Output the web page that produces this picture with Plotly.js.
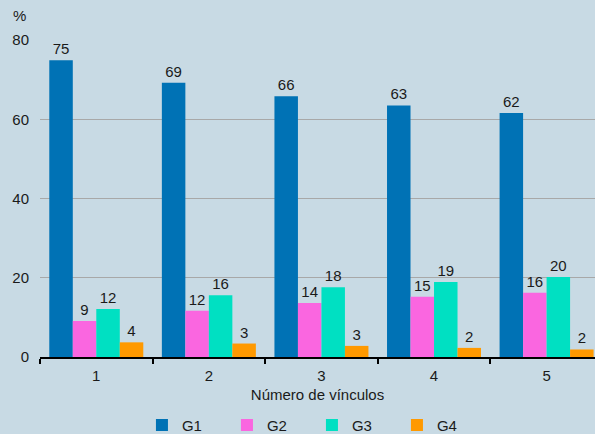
<!DOCTYPE html>
<html>
<head>
<meta charset="utf-8">
<script src="https://cdn.plot.ly/plotly-3.0.1.min.js"></script>
<style>html,body{margin:0;padding:0;background:#c8dae4;}#chart{width:595px;height:434px;}</style>
</head>
<body>
<div id="chart"></div>
<script>
var categories = ['1', '2', '3', '4', '5'];
var seriesNames = ['G1', 'G2', 'G3', 'G4'];
var g1 = [74.9, 69.2, 65.8, 63.5, 61.6];
var g2 = [9.1, 11.7, 13.6, 15.2, 16.2];
var g3 = [12.1, 15.6, 17.6, 18.9, 20.2];
var g4 = [3.7, 3.4, 2.8, 2.3, 1.9];
var g1Labels = ['75', '69', '66', '63', '62'];
var g2Labels = ['9', '12', '14', '15', '16'];
var g3Labels = ['12', '16', '18', '19', '20'];
var g4Labels = ['4', '3', '3', '2', '2'];
var yTicks = [0, 20, 40, 60, 80];

var colors = ['#0072b5', '#fa66e0', '#00e0c2', '#ff9900'];
var values = [g1, g2, g3, g4];
var labels = [g1Labels, g2Labels, g3Labels, g4Labels];
var font = {family: 'Liberation Sans, Arial, sans-serif', size: 15, color: '#1a1a1a'};

var traces = values.map(function (v, i) {
  return {
    type: 'bar',
    name: seriesNames[i],
    x: categories,
    y: v,
    text: labels[i],
    textposition: 'outside',
    textfont: font,
    cliponaxis: false,
    marker: {color: colors[i]},
    hoverinfo: 'none'
  };
});

var layout = {
  width: 595,
  height: 434,
  paper_bgcolor: '#c8dae4',
  plot_bgcolor: '#c8dae4',
  font: font,
  margin: {l: 40, r: 0, t: 40, b: 77, autoexpand: false},
  barmode: 'group',
  bargap: 0.165,
  bargroupgap: 0,
  showlegend: true,
  legend: {
    orientation: 'h',
    x: 0.49,
    xanchor: 'center',
    y: -0.215,
    yanchor: 'middle',
    entrywidth: 40,
    itemwidth: 30,
    font: font,
    bgcolor: 'rgba(0,0,0,0)',
    traceorder: 'normal'
  },
  xaxis: {
    type: 'category',
    range: [-0.5, 4.43],
    showgrid: false,
    showline: true,
    linecolor: '#000000',
    linewidth: 2,
    ticks: 'outside',
    tickson: 'boundaries',
    ticklen: 5,
    tickwidth: 2,
    tickcolor: '#000000',
    ticklabelstandoff: 4,
    tickfont: font,
    title: {text: 'Número de vínculos', font: font, standoff: 6},
    zeroline: false
  },
  yaxis: {
    range: [0, 80],
    tickvals: yTicks,
    ticktext: yTicks.map(String),
    showgrid: true,
    gridcolor: '#a8a8a8',
    gridwidth: 1,
    zeroline: false,
    showline: false,
    ticks: '',
    ticklabelstandoff: 10,
    tickfont: font,
    fixedrange: true
  },
  annotations: [{
    text: '%',
    xref: 'paper',
    yref: 'paper',
    x: 0,
    y: 1.0,
    xanchor: 'center',
    yanchor: 'bottom',
    xshift: -21,
    yshift: 14,
    showarrow: false,
    font: font
  }]
};

Plotly.newPlot('chart', traces, layout, {displayModeBar: false, staticPlot: true});
</script>
</body>
</html>
